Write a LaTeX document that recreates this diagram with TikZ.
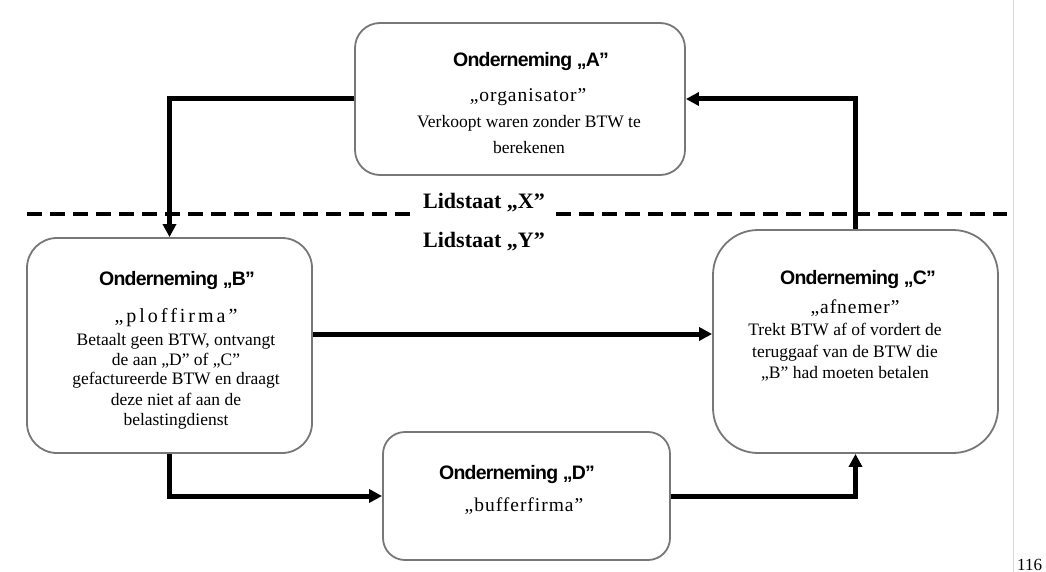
\documentclass[tikz,border=0pt]{standalone}
\usepackage{fontspec}
\setmainfont{Liberation Serif}
\newfontfamily\titlefont[LetterSpace=-4,UprightFont={* Bold}]{Liberation Sans}
\newfontfamily\subfont[LetterSpace=5]{Liberation Serif}
\newfontfamily\ploffont[LetterSpace=15]{Liberation Serif}
\usetikzlibrary{arrows.meta}
\definecolor{boxgray}{HTML}{777777}
\tikzset{
  box/.style={draw=boxgray, line width=1.8pt, fill=white, inner sep=0pt},
  ttl/.style={anchor=base, inner sep=0pt, font=\titlefont\fontsize{19.5}{24}\selectfont},
  sub/.style={anchor=base, inner sep=0pt, font=\subfont\fontsize{19.5}{24}\selectfont},
  body/.style={anchor=base, inner sep=0pt, font=\fontsize{17.5}{20}\selectfont},
  conn/.style={line width=5pt, -{Triangle[length=13pt,width=13pt]}},
  dashline/.style={line width=4pt, dash pattern=on 15pt off 8pt},
  lidstaat/.style={anchor=base, font=\bfseries\fontsize{22}{26}\selectfont}
}
\begin{document}
\begin{tikzpicture}[x=1pt,y=-1pt]
\useasboundingbox (0,0) rectangle (1046,572);
\draw[gray!30, line width=1pt] (1013,0) -- (1013,572);

% dashed border between member states
\coordinate (dl) at (27,214);
\coordinate (dr) at (1007,214);
\draw[dashline] (dl) -- (dr);

% boxes
\node[box, rounded corners=25pt, minimum width=330pt, minimum height=152pt] (A) at (520,99) {};
\node[box, rounded corners=30pt, minimum width=285pt, minimum height=215pt] (B) at (169.5,345.5) {};
\node[box, rounded corners=45pt, minimum width=285pt, minimum height=223pt] (C) at (855.5,341.5) {};
\node[box, rounded corners=22pt, minimum width=287pt, minimum height=128pt] (D) at (526.5,496) {};

% connectors
\coordinate (bc) at (0,334);
\draw[conn] (A.west) -| (B.north);
\draw[conn] (B.east |- bc) -- (C.west |- bc);
\draw[conn] (B.south) |- (D.west);
\draw[conn] (D.east) -| (C.south);
\draw[conn] (C.north) |- (A.east);

% labels on the border
\node[lidstaat, fill=white, inner xsep=7pt, inner ysep=7pt] (lx) at (484,208) {Lidstaat „X”};
\node[lidstaat, inner sep=0pt] (ly) at (484,247) {Lidstaat „Y”};

% texts of A
\node[ttl] (At) at (531,67) {Onderneming „A”};
\node[sub] (As) at (528,102) {„organisator”};
\node[body] (A1) at (529,127.5) {Verkoopt waren zonder BTW te};
\node[body] (A2) at (529,153.5) {berekenen};

% texts of B
\node[ttl] (Bt) at (177,285) {Onderneming „B”};
\node[sub, font=\ploffont\fontsize{20}{24}\selectfont] (Bs) at (176,322) {„ploffirma”};
\node[body] (B1) at (176,345.5) {Betaalt geen BTW, ontvangt};
\node[body] (B2) at (176,365.5) {de aan „D” of „C”};
\node[body] (B3) at (176,384.5) {gefactureerde BTW en draagt};
\node[body] (B4) at (176,405.5) {deze niet af aan de};
\node[body] (B5) at (176,425.5) {belastingdienst};

% texts of C
\node[ttl] (Ct) at (858,284) {Onderneming „C”};
\node[sub] (Cs) at (855,313) {„afnemer”};
\node[body] (C1) at (845,335.5) {Trekt BTW af of vordert de};
\node[body] (C2) at (845,357.5) {teruggaaf van de BTW die};
\node[body] (C3) at (845,378.5) {„B” had moeten betalen};

% texts of D
\node[ttl] (Dt) at (517,479) {Onderneming „D”};
\node[sub] (Ds) at (524,511) {„bufferfirma”};

% page number
\node[anchor=base west, inner sep=0pt, font=\fontsize{17}{20}\selectfont] (pg) at (1017,570) {116};
\end{tikzpicture}
\end{document}
